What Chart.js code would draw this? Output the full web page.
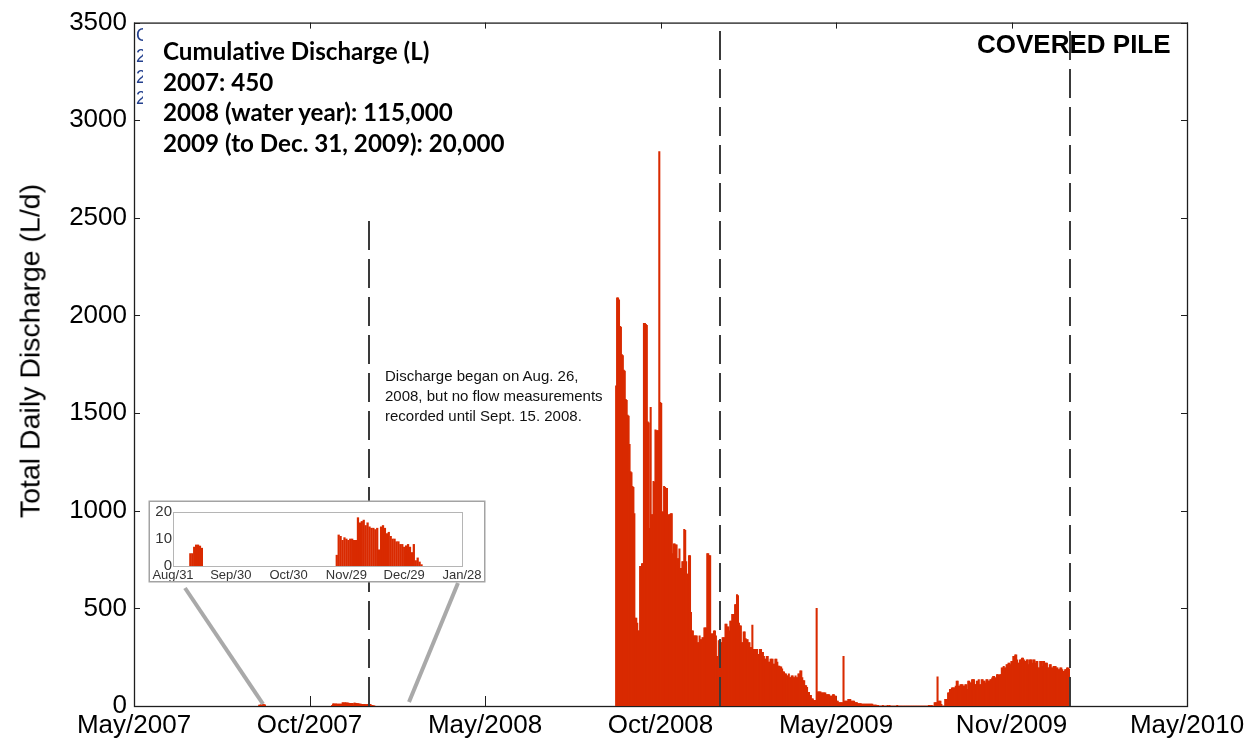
<!DOCTYPE html>
<html lang="en">
<head>
    <meta charset="UTF-8">
    <title>Covered Pile - Total Daily Discharge</title>
    <script src="https://cdn.jsdelivr.net/npm/chart.js"></script>
    <style>
        html, body { margin: 0; padding: 0; background: #fff; }
        .figure { position: relative; width: 1255px; height: 740px; overflow: hidden; }
        #dischargeChart { position: absolute; left: 0; top: 0; }
        .y-title {
            position: absolute; left: 30px; top: 351px; white-space: nowrap;
            transform: translate(-50%, -50%) rotate(-90deg);
            font: 28.5px 'Liberation Sans', Arial, sans-serif; color: #000;
        }
        .totals {
            position: absolute; left: 163px; top: 36px;
            font-family: Lato, 'Open Sans', sans-serif; font-weight: 700; font-variant-ligatures: none;
            font-size: 24.2px; line-height: 30.6px; color: #000; white-space: nowrap;
        }
        .old-legend {
            position: absolute; left: 136px; top: 25px; width: 7px; overflow: hidden;
            font: 18px 'Liberation Sans', Arial, sans-serif; line-height: 21px; color: #23408e;
        }
        .pile-name {
            position: absolute; left: 977px; top: 31px;
            font: bold 26px 'Liberation Sans', Arial, sans-serif; line-height: 26px; color: #000;
        }
        .note {
            position: absolute; left: 385px; top: 366px;
            font: 15px 'Liberation Sans', Arial, sans-serif; line-height: 20px; color: #111; white-space: nowrap;
        }
        #insetChart {
            position: absolute; left: 150px; top: 502px; background: #fff;
            box-shadow: 0 0 0 1.5px #a3a3a3; filter: blur(0.4px);
        }
        .connectors { position: absolute; left: 0; top: 0; pointer-events: none; }
    </style>
</head>
<body>
    <div class="figure">
        <canvas id="dischargeChart" width="1255" height="740"></canvas>

        <div class="y-title">Total Daily Discharge (L/d)</div>
        <div class="old-legend">C<br>2<br>2<br>2</div>
        <div class="totals">
            Cumulative Discharge (L)<br>
            2007: 450<br>
            2008 (water year): 115,000<br>
            2009 (to Dec. 31, 2009): 20,000
        </div>
        <div class="pile-name">COVERED PILE</div>
        <div class="note">
            Discharge began on Aug. 26,<br>
            2008, but no flow measurements<br>
            recorded until Sept. 15. 2008.
        </div>

        <canvas id="insetChart" width="334" height="79"></canvas>
        <svg class="connectors" width="1255" height="740">
            <line x1="185" y1="588" x2="263" y2="704" stroke="#a9a9a9" stroke-width="4"/>
            <line x1="458" y1="583" x2="409" y2="702" stroke="#a9a9a9" stroke-width="4"/>
        </svg>
    </div>

    <script>
        // Days are counted from May 1, 2007 (day 0)
        const xMin = 0.5;
        const xMax = 1098;
        const tickLabels = ['May/2007', 'Oct/2007', 'May/2008', 'Oct/2008', 'May/2009', 'Nov/2009', 'May/2010'];

        // Jan 1 of 2008, 2009, 2010 and how high each marker line goes (L/d)
        const yearBreaks = [245, 611, 976];
        const yearBreakTops = [2500, 3500, 3500];

        // 2007 trickle (L/d), two short runs
        const startA2007 = 131; // Sep 9, 2007
        const flowA2007 = [4.6, 4.6, 7.0, 7.8, 7.8, 7.4, 6.6];
        const startB2007 = 207; // Nov 24, 2007
        const flowB2007 = [4, 11.5, 11, 9.5, 10.5, 10, 9.5, 10, 10, 9.5,
            9.5, 17.9, 16, 16.5, 17, 15, 16, 14.5, 14, 14,
            13.5, 14, 6, 14.5, 15, 14, 12, 12.5, 11, 10,
            10, 9, 9, 8, 8, 7, 7.5, 8, 7, 5,
            8, 2, 3, 1.5, 0.5];

        // daily discharge (L/d) from Sep 15, 2008 onwards
        const start2008 = 503;
        const flowSep08 = [1640, 2090, 2090, 2080, 1945, 1940, 1800, 1795, 1720, 1715, 1570, 1565, 1490, 1485, 1340, 1200];
        const flowOct08 = [1195, 1125, 1120, 985, 450, 450, 425, 385, 385, 715, 715, 730, 730, 1960, 1960, 1955,
            1950, 1455, 1450, 910, 1530, 980, 980, 1150, 1145, 1415, 1410, 1410, 1410, 2840, 1555];
        const flowNov08 = [1550, 995, 995, 1125, 1120, 1115, 1115, 970, 980, 980, 985, 985, 780, 830, 830,
            825, 825, 755, 755, 805, 705, 705, 740, 740, 905, 900, 740, 675, 675, 770];
        const flowDec08 = [770, 480, 385, 385, 360, 360, 360, 360, 325, 325, 360, 340, 340, 350, 350, 400,
            400, 400, 780, 780, 770, 770, 370, 370, 370, 385, 385, 360, 255, 255, 335];
        const flowJan09 = [335, 325, 325, 350, 350, 350, 420, 420, 405, 405, 385, 435, 435, 470, 470, 470,
            520, 520, 570, 565, 425, 410, 410, 325, 325, 380, 380, 345, 340, 340, 325];
        const flowFeb09 = [325, 300, 300, 415, 290, 290, 290, 290, 290, 265, 265, 290, 290, 275,
            275, 255, 240, 240, 255, 255, 225, 225, 240, 240, 240, 215, 215, 240];
        const flowMar09 = [240, 225, 205, 205, 200, 200, 190, 175, 175, 165, 165, 155, 155, 165, 145, 145,
            155, 155, 145, 145, 155, 145, 145, 165, 165, 180, 180, 145, 130, 130, 105];
        const flowApr09 = [105, 95, 70, 70, 55, 55, 37, 37, 29, 29, 29, 500, 73, 73, 73,
            73, 68, 68, 68, 68, 68, 59, 59, 59, 59, 51, 51, 51, 59, 59];
        const flowMay09 = [51, 51, 25, 25, 17, 17, 17, 17, 17, 255, 25, 25, 25, 25, 34, 34,
            34, 25, 25, 25, 25, 17, 17, 17, 12, 12, 12, 12, 10, 10, 10];
        const flowJun09 = [10, 10, 10, 10, 10, 10, 10, 10, 10, 5, 5, 5, 5, 0, 4,
            0, 0, 0, 0, 4, 0, 0, 0, 0, 4, 0, 4, 0, 0, 0];
        const flowJul09 = [0, 0, 0, 0, 4, 0, 0, 0, 0, 0, 0, 0, 0, 0, 0, 0,
            0, 0, 0, 0, 0, 0, 0, 0, 0, 0, 0, 0, 0, 0, 0];
        const flowAug09 = [0, 0, 0, 0, 0, 0, 4, 4, 0, 4, 0, 0, 17, 17, 17, 150,
            25, 25, 25, 8, 0, 0, 0, 34, 34, 34, 68, 68, 85, 85, 93];
        const flowSep09 = [93, 93, 93, 102, 127, 127, 102, 102, 110, 110, 110, 102, 102, 110, 110,
            85, 127, 127, 119, 119, 135, 135, 135, 110, 110, 127, 127, 135, 110, 110];
        const flowOct09 = [135, 135, 127, 127, 119, 135, 135, 127, 127, 135, 135, 144, 152, 152, 144, 144,
            161, 161, 152, 161, 161, 195, 195, 203, 195, 195, 212, 212, 220, 220, 212];
        const flowNov09 = [229, 229, 254, 254, 262, 262, 237, 220, 220, 237, 237, 245, 245, 237, 229,
            229, 237, 237, 212, 237, 237, 237, 220, 237, 237, 220, 229, 229, 195, 195];
        const flowDec09 = [229, 229, 203, 229, 229, 220, 220, 220, 195, 195, 212, 212, 195, 195, 203, 203,
            203, 195, 195, 186, 186, 195, 195, 186, 178, 178, 186, 186, 195, 195, 190];

        // zoomed view of late 2007
        const insetTicks = [122, 152, 182, 212, 242, 272];
        const insetTickLabels = ['Aug/31', 'Sep/30', 'Oct/30', 'Nov/29', 'Dec/29', 'Jan/28'];

        const barColor = '#d92a00';
        Chart.defaults.font.family = "'Liberation Sans', Arial, sans-serif";
        Chart.defaults.color = '#000';

        function toPoints(start, values) {
            return values.map((v, i) => ({ x: start + i, y: v }));
        }

        const flow2008 = [].concat(flowSep08, flowOct08, flowNov08, flowDec08, flowJan09, flowFeb09,
            flowMar09, flowApr09, flowMay09, flowJun09, flowJul09, flowAug09, flowSep09, flowOct09,
            flowNov09, flowDec09);

        const earlyPoints = [...toPoints(startA2007, flowA2007), ...toPoints(startB2007, flowB2007)];
        const allPoints = [...earlyPoints, ...toPoints(start2008, flow2008)];

        // box round the plot with inward tick marks, and the dashed year lines on top of the bars
        const axesBox = {
            id: 'axesBox',
            beforeDatasetsDraw(chart) {
                const { ctx, chartArea: a, scales: { x, y } } = chart;
                ctx.save();
                ctx.strokeStyle = '#1e1e1e';
                ctx.lineWidth = 1.3;
                ctx.strokeRect(a.left + 0.5, a.top + 0.5, a.right - a.left, a.bottom - a.top);
                ctx.lineWidth = 1;
                ctx.beginPath();
                x.ticks.forEach(t => {
                    const px = Math.round(x.getPixelForValue(t.value)) + 0.5;
                    ctx.moveTo(px, a.bottom); ctx.lineTo(px, a.bottom - 10);
                    ctx.moveTo(px, a.top); ctx.lineTo(px, a.top + 6);
                });
                y.ticks.forEach(t => {
                    const py = Math.round(y.getPixelForValue(t.value)) + 0.5;
                    ctx.moveTo(a.left, py); ctx.lineTo(a.left + 6, py);
                    ctx.moveTo(a.right, py); ctx.lineTo(a.right - 6, py);
                });
                ctx.stroke();
                ctx.restore();
            },
            afterDatasetsDraw(chart) {
                const { ctx, chartArea: a, scales: { x, y } } = chart;
                ctx.save();
                ctx.strokeStyle = '#3a3a3a';
                ctx.lineWidth = 2;
                ctx.setLineDash([29, 9]);
                yearBreaks.forEach((d, k) => {
                    const px = Math.round(x.getPixelForValue(d));
                    ctx.beginPath();
                    ctx.moveTo(px, a.bottom);
                    ctx.lineTo(px, y.getPixelForValue(yearBreakTops[k]));
                    ctx.stroke();
                });
                ctx.restore();
            }
        };

        new Chart(document.getElementById('dischargeChart'), {
            type: 'bar',
            data: {
                datasets: [{
                    data: allPoints,
                    backgroundColor: barColor,
                    borderWidth: 0,
                    barThickness: 1.4
                }]
            },
            options: {
                responsive: false,
                animation: false,
                layout: { padding: { top: 17, right: 68, bottom: 0, left: 0 } },
                plugins: { legend: { display: false }, tooltip: { enabled: false } },
                scales: {
                    x: {
                        type: 'linear',
                        min: xMin,
                        max: xMax,
                        offset: false,
                        grid: { display: false, drawTicks: false },
                        border: { display: false },
                        afterBuildTicks: scale => {
                            scale.ticks = tickLabels.map((_, k) => ({ value: xMin + k * (xMax - xMin) / 6 }));
                        },
                        afterFit: scale => { scale.height = 34; },
                        ticks: {
                            autoSkip: false,
                            maxRotation: 0,
                            padding: 4,
                            font: { size: 26 },
                            callback: (v, i) => tickLabels[i]
                        }
                    },
                    y: {
                        min: 0,
                        max: 3500,
                        grid: { display: false, drawTicks: false },
                        border: { display: false },
                        afterFit: scale => { scale.width = 134; },
                        ticks: {
                            stepSize: 500,
                            padding: 7,
                            font: { size: 26 },
                            callback: v => v
                        }
                    }
                }
            },
            plugins: [axesBox]
        });

        // light frame for the zoomed view
        const insetBox = {
            id: 'insetBox',
            beforeDatasetsDraw(chart) {
                const { ctx, chartArea: a } = chart;
                ctx.save();
                ctx.strokeStyle = '#b5b5b5';
                ctx.lineWidth = 1;
                ctx.strokeRect(a.left + 0.5, a.top + 0.5, a.right - a.left, a.bottom - a.top);
                ctx.restore();
            }
        };

        new Chart(document.getElementById('insetChart'), {
            type: 'bar',
            data: {
                datasets: [{
                    data: earlyPoints,
                    backgroundColor: barColor,
                    borderWidth: 0,
                    barThickness: 1.6
                }]
            },
            options: {
                responsive: false,
                animation: false,
                layout: { padding: { top: 9, right: 22, bottom: 0, left: 0 } },
                plugins: { legend: { display: false }, tooltip: { enabled: false } },
                scales: {
                    x: {
                        type: 'linear',
                        min: insetTicks[0],
                        max: insetTicks[insetTicks.length - 1],
                        offset: false,
                        grid: { display: false, drawTicks: false },
                        border: { display: false },
                        afterBuildTicks: scale => {
                            scale.ticks = insetTicks.map(v => ({ value: v }));
                        },
                        afterFit: scale => { scale.height = 15; },
                        ticks: {
                            autoSkip: false,
                            maxRotation: 0,
                            padding: 2,
                            color: '#333',
                            font: { size: 13 },
                            callback: (v, i) => insetTickLabels[i]
                        }
                    },
                    y: {
                        min: 0,
                        max: 20,
                        grid: { display: false, drawTicks: false },
                        border: { display: false },
                        afterFit: scale => { scale.width = 23; },
                        ticks: {
                            stepSize: 10,
                            padding: 1,
                            color: '#333',
                            font: { size: 15 }
                        }
                    }
                }
            },
            plugins: [insetBox]
        });
    </script>
</body>
</html>
